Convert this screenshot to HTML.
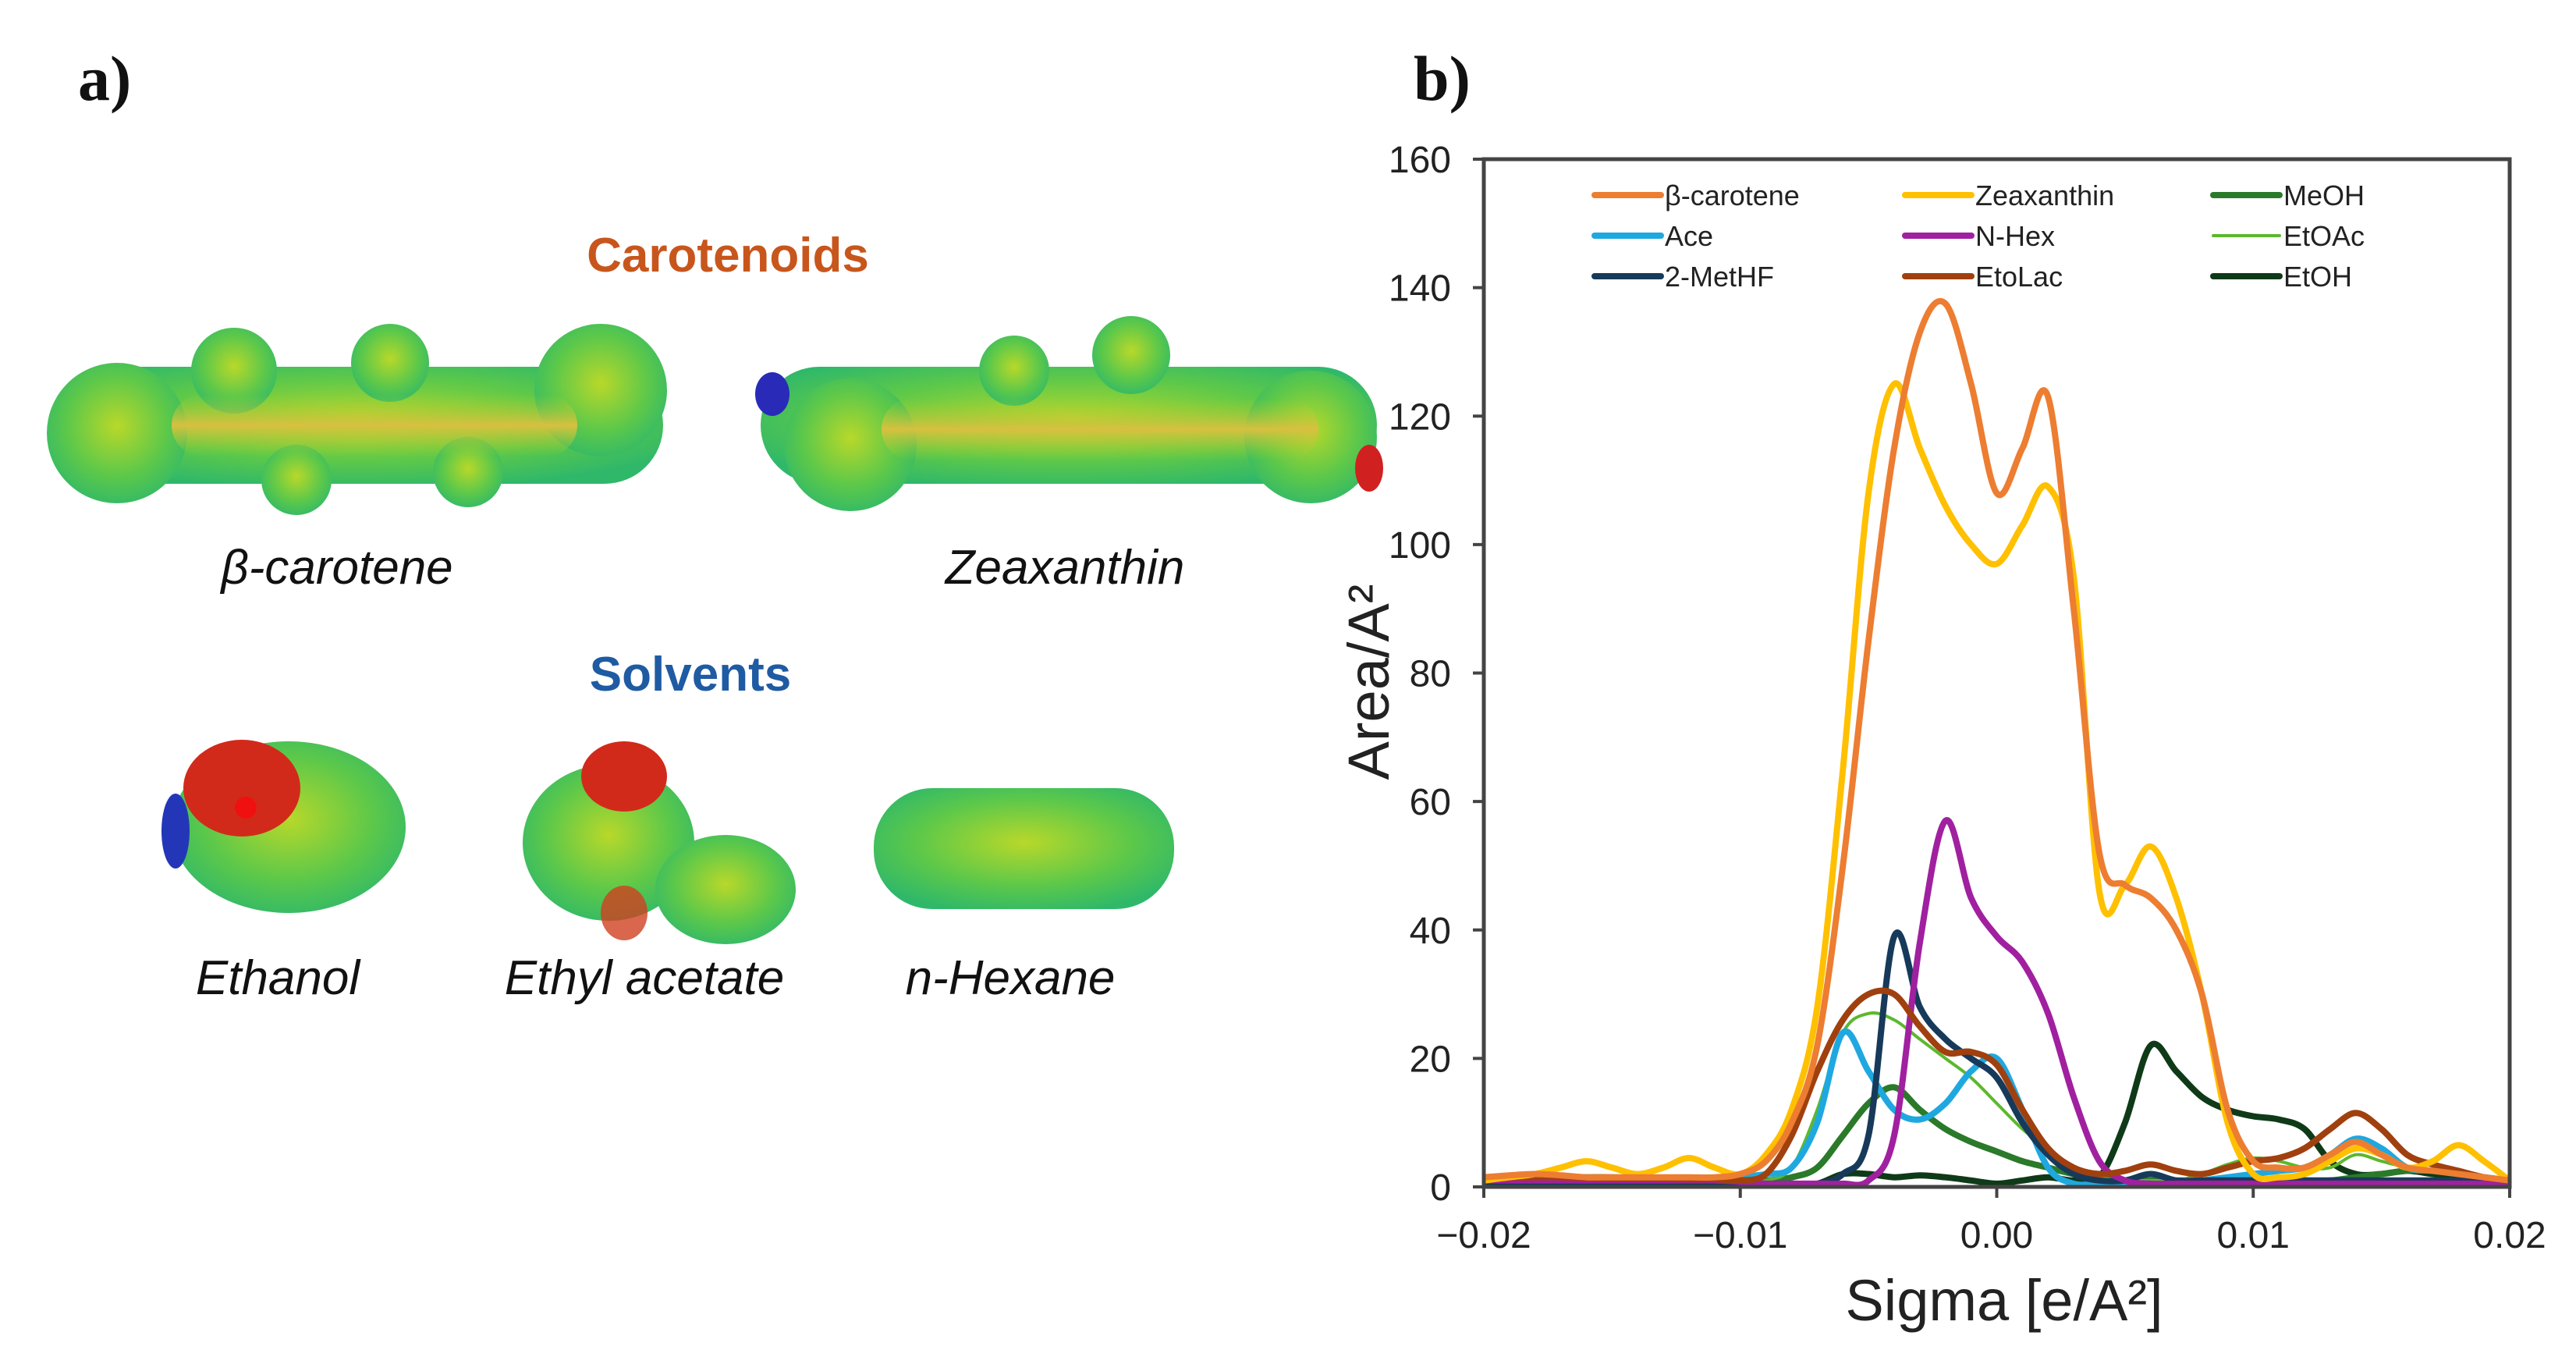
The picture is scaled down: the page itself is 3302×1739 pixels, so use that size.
<!DOCTYPE html>
<html><head><meta charset="utf-8">
<style>
html,body{margin:0;padding:0;background:#fff;}
svg{display:block;}
text{font-family:"Liberation Sans",Arial,sans-serif;}
</style></head>
<body>
<svg id="fig" width="3302" height="1739" viewBox="0 0 3302 1739" xmlns="http://www.w3.org/2000/svg">
<defs>
<radialGradient id="gblob" cx="50%" cy="45%" r="60%">
<stop offset="0" stop-color="#b8d82a"/><stop offset="0.6" stop-color="#5cc84a"/><stop offset="1" stop-color="#2fb86a"/>
</radialGradient>
<linearGradient id="gband" x1="0" y1="0" x2="0" y2="1">
<stop offset="0" stop-color="#9ad030" stop-opacity="0"/><stop offset="0.5" stop-color="#d8c040"/><stop offset="1" stop-color="#9ad030" stop-opacity="0"/>
</linearGradient>
<clipPath id="plotclip"><rect x="1902" y="150" width="1315" height="1371"/></clipPath>
</defs>

<g>
<text x="100" y="128" font-weight="bold" font-size="82" fill="#111" style="font-family:'Liberation Serif',serif">a)</text>
<text x="933" y="348" text-anchor="middle" font-weight="bold" font-size="62" fill="#c8561c">Carotenoids</text>
<text x="885" y="885" text-anchor="middle" font-weight="bold" font-size="62" fill="#1f5ba3">Solvents</text>

<g>
<rect x="70" y="470" width="780" height="150" rx="75" fill="url(#gblob)"/>
<circle cx="150" cy="555" r="90" fill="url(#gblob)"/>
<circle cx="770" cy="500" r="85" fill="url(#gblob)"/>
<circle cx="300" cy="475" r="55" fill="url(#gblob)"/>
<circle cx="500" cy="465" r="50" fill="url(#gblob)"/>
<circle cx="380" cy="615" r="45" fill="url(#gblob)"/>
<circle cx="600" cy="605" r="45" fill="url(#gblob)"/>
<rect x="220" y="505" width="520" height="80" rx="40" fill="url(#gband)"/>
</g>
<g>
<rect x="975" y="470" width="790" height="150" rx="75" fill="url(#gblob)"/>
<circle cx="1090" cy="570" r="85" fill="url(#gblob)"/>
<circle cx="1680" cy="560" r="85" fill="url(#gblob)"/>
<circle cx="1450" cy="455" r="50" fill="url(#gblob)"/>
<circle cx="1300" cy="475" r="45" fill="url(#gblob)"/>
<rect x="1130" y="510" width="560" height="80" rx="40" fill="url(#gband)"/>
<ellipse cx="990" cy="505" rx="22" ry="28" fill="#2a2ab8"/>
<ellipse cx="1755" cy="600" rx="18" ry="30" fill="#d02020"/>
</g>
<g>
<ellipse cx="370" cy="1060" rx="150" ry="110" fill="url(#gblob)"/>
<ellipse cx="310" cy="1010" rx="75" ry="62" fill="#d22a1a"/>
<ellipse cx="225" cy="1065" rx="18" ry="48" fill="#2436b8"/>
<circle cx="315" cy="1035" r="14" fill="#f01010"/>
</g>
<g>
<ellipse cx="780" cy="1080" rx="110" ry="100" fill="url(#gblob)"/>
<ellipse cx="930" cy="1140" rx="90" ry="70" fill="url(#gblob)"/>
<ellipse cx="800" cy="995" rx="55" ry="45" fill="#d22a1a"/>
<ellipse cx="800" cy="1170" rx="30" ry="35" fill="#d04020" opacity="0.8"/>
</g>
<g>
<rect x="1120" y="1010" width="385" height="155" rx="75" fill="url(#gblob)"/>
</g>

<g font-style="italic" font-size="62" fill="#111" text-anchor="middle">
<text x="432" y="748">β-carotene</text>
<text x="1365" y="748">Zeaxanthin</text>
<text x="356" y="1274">Ethanol</text>
<text x="826" y="1274">Ethyl acetate</text>
<text x="1295" y="1274">n-Hexane</text>
</g>
</g>

<text x="1812" y="128" font-weight="bold" font-size="82" fill="#111" style="font-family:'Liberation Serif',serif">b)</text>
<g id="chart"></g>
</svg>
<script>
const sigmaValues = [-0.020,-0.019,-0.018,-0.017,-0.016,-0.015,-0.014,-0.013,-0.012,-0.011,-0.010,-0.009,-0.008,-0.007,-0.006,-0.005,-0.004,-0.003,-0.002,-0.001,0.000,0.001,0.002,0.003,0.004,0.005,0.006,0.007,0.008,0.009,0.010,0.011,0.012,0.013,0.014,0.015,0.016,0.017,0.018,0.019,0.020];
const betaCarotene = [1.5,1.8,2,1.8,1.5,1.5,1.5,1.5,1.5,1.5,2,4,10,22,50,85,115,133,137.5,125,108,115,123,90,52,47,45,40,30,12,4,3,3,5,7,5,3,2.5,2,1.5,1];
const zeaxanthin = [1,1.5,2,3,4,3,2,3,4.5,3,2,5,12,28,65,108,125,115,106,100,97,103,109,95,46,47,53,45,30,10,2,1.5,2,4,6,5,3,4,6.5,4,1];
const meoh = [1.5,1.5,1.5,1.5,1.5,1.5,1.3,1.2,1.2,1,1,1,1.5,3,8,13,15.5,12,9,7,5.5,4,3,2,1.5,1,1,1,1,1,1,1,1,1,1.5,2,2.5,2.5,2,1.5,1];
const ace = [1,1,1,1,1,1,1,1,1,1,1.5,2,3,10,24,18,12,10.5,13,18,20,12,3,0.5,0.5,0.5,0.5,0.5,1,1.5,2,2.5,3,5,7.5,6,3,2.5,2,1.5,1];
const nHex = [1,1,1,1,1,1,1,1,1,1,0.8,0.5,0.5,0.5,0.5,1,8,38,57,45,39,35,27,14,4,1,0.5,0.5,0.5,0.5,0.5,0.5,0.5,0.5,0.5,0.5,0.5,0.5,0.5,0.5,0.5];
const etoac = [0.5,0.5,0.5,0.5,0.5,0.5,0.5,0.5,0.5,0.5,0.5,1,3,12,24,27,26,23,20,17,13,9,6,3,1.5,1,1,1,2,3.5,4.5,4,3,3,5,4,3,2.5,2,1.5,1];
const metHF = [0.5,0.5,0.5,0.5,0.5,0.5,0.5,0.5,0.5,0.5,0.5,0.5,0.5,0.5,2,8,39,28,23,20,17,10,5,2,1,1,2,1,1,1,1,1,1,1,1,1,1,1,1,1,1];
const etolac = [1.5,1.5,1.5,1.5,1.4,1.3,1.3,1.3,1.2,1.2,1,2,8,18,26,30,30,25,21,21,19,12,6,3,2,2.5,3.5,2.5,2,3,4,4.5,6,9,11.5,9,5,3.5,2.5,1.5,1];
const etoh = [0.5,0.5,0.5,0.5,0.5,0.5,0.5,0.5,0.5,0.5,0.5,0.5,0.5,0.5,2,2,1.5,1.8,1.5,1,0.5,1,1.5,1,1.5,10,22,18,14,12,11,10.5,9,4,2,2,2.5,2,1.5,1,1];
const yTicks = [0,20,40,60,80,100,120,140,160];
const xTicks = [-0.02,-0.01,0,0.01,0.02];
const xTickLabels = ["\u22120.02","\u22120.01","0.00","0.01","0.02"];
const seriesNames = ["β-carotene","Zeaxanthin","MeOH","Ace","N-Hex","EtOAc","2-MetHF","EtoLac","EtOH"];

const L=1902,R=3217,T=204,B=1521;
const xMin=-0.02,xMax=0.02,yMin=0,yMax=160;
function xs(v){return L+(v-xMin)/(xMax-xMin)*(R-L);}
function ys(v){return B-(v-yMin)/(yMax-yMin)*(B-T);}
const NS="http://www.w3.org/2000/svg";
const chart=document.getElementById('chart');
function mk(tag,attrs,parent){const e=document.createElementNS(NS,tag);for(const k in attrs)e.setAttribute(k,attrs[k]);(parent||chart).appendChild(e);return e;}

function pathFor(vals){
  const p=sigmaValues.map((s,i)=>[xs(s),ys(vals[i])]);
  let d="M"+p[0][0].toFixed(1)+","+p[0][1].toFixed(1);
  for(let i=0;i<p.length-1;i++){
    const p0=p[Math.max(0,i-1)],p1=p[i],p2=p[i+1],p3=p[Math.min(p.length-1,i+2)];
    const c1x=p1[0]+(p2[0]-p0[0])/6,c1y=p1[1]+(p2[1]-p0[1])/6;
    const c2x=p2[0]-(p3[0]-p1[0])/6,c2y=p2[1]-(p3[1]-p1[1])/6;
    d+=" C"+c1x.toFixed(1)+","+c1y.toFixed(1)+" "+c2x.toFixed(1)+","+c2y.toFixed(1)+" "+p2[0].toFixed(1)+","+p2[1].toFixed(1);
  }
  return d;
}

const seriesData=[betaCarotene,zeaxanthin,meoh,ace,nHex,etoac,metHF,etolac,etoh];
const seriesColors=["#ed7d31","#ffc000","#2a7a2a","#1fa8e0","#a020a0","#5cb82e","#173a5a","#a0400f","#0f3a18"];
const seriesWidths=[8,8,8,8,8,4,8,8,8];
const seriesSlugs=["beta-carotene","zeaxanthin","meoh","ace","n-hex","etoac","2-methf","etolac","etoh"];
const drawOrder=[8,2,5,3,6,4,7,1,0];

const lines=mk('g',{'clip-path':'url(#plotclip)'});


drawOrder.forEach(i=>{
  const pth=mk('path',{d:pathFor(seriesData[i]),fill:'none',stroke:seriesColors[i],'stroke-width':seriesWidths[i],'stroke-linejoin':'round','stroke-linecap':'round'},lines);
  
  
});

const frame=mk('rect',{x:L,y:T,width:R-L,height:B-T,fill:'none',stroke:'#444','stroke-width':5});



yTicks.forEach(v=>{
  const y=ys(v);
  const t=mk('line',{x1:L-14,x2:L,y1:y,y2:y,stroke:'#444','stroke-width':4});
  
  
  const lb=mk('text',{x:L-42,y:y+17,'text-anchor':'end','font-size':48,fill:'#222'});
  lb.textContent=String(v);
  
  
});
xTicks.forEach((v,i)=>{
  const x=xs(v);
  const t=mk('line',{x1:x,x2:x,y1:B,y2:B+14,stroke:'#444','stroke-width':4});
  
  
  const lb=mk('text',{x:x,y:B+78,'text-anchor':'middle','font-size':48,fill:'#222'});
  lb.textContent=xTickLabels[i];
  
  
});
const xt=mk('text',{x:2569,y:1692,'text-anchor':'middle','font-size':74,fill:'#222'});
xt.textContent="Sigma [e/A²]";


const yt=mk('text',{x:0,y:0,'text-anchor':'middle','font-size':74,fill:'#222',transform:'translate(1780,874) rotate(-90)'});
yt.textContent="Area/A²";



const legCols=[2044,2442,2837];
const legRows=[250,302,354];
const leg=mk('g',{});


seriesNames.forEach((n,i)=>{
  const cx=legCols[i%3],cy=legRows[Math.floor(i/3)];
  const g=mk('g',{},leg);
  
  
  mk('line',{x1:cx,x2:cx+85,y1:cy,y2:cy,stroke:seriesColors[i],'stroke-width':seriesWidths[i],'stroke-linecap':'round'},g);
  const tx=mk('text',{x:cx+90,y:cy+13,'font-size':36,fill:'#222'},g);
  tx.textContent=n;
});
</script>
</body></html>
